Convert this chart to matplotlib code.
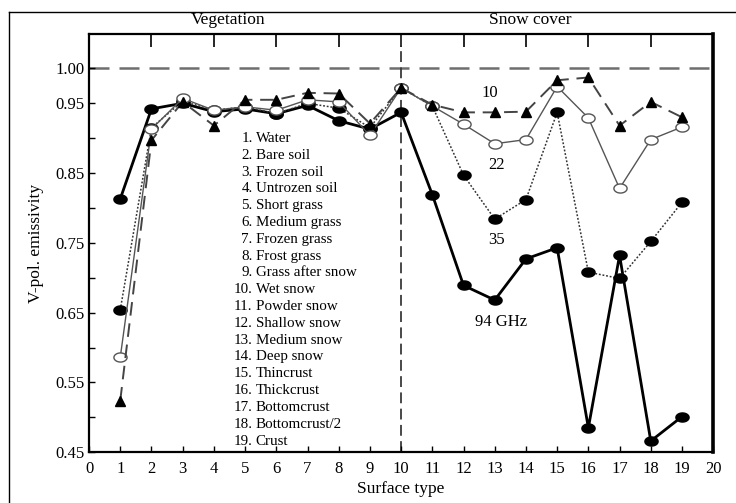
"""Emissivity versus surface type at four frequencies."""

import numpy as np
import matplotlib

matplotlib.use("Agg")
import matplotlib.pyplot as plt
from matplotlib.path import Path
from matplotlib.lines import Line2D

plt.rcParams["font.family"] = ["Liberation Serif", "DejaVu Serif"]

surface = list(range(1, 20))
surface_names = [
    "Water", "Bare soil", "Frozen soil", "Untrozen soil", "Short grass",
    "Medium grass", "Frozen grass", "Frost grass", "Grass after snow",
    "Wet snow", "Powder snow", "Shallow snow", "Medium snow", "Deep snow",
    "Thincrust", "Thickcrust", "Bottomcrust", "Bottomcrust/2", "Crust",
]
e10 = [0.524, 0.897, 0.952, 0.918, 0.955, 0.955, 0.965, 0.964, 0.921, 0.972,
       0.948, 0.937, 0.937, 0.938, 0.983, 0.987, 0.918, 0.952, 0.930]
e22 = [0.586, 0.913, 0.957, 0.940, 0.945, 0.940, 0.955, 0.952, 0.904, 0.972,
       0.946, 0.920, 0.892, 0.898, 0.974, 0.929, 0.828, 0.898, 0.916]
e35 = [0.654, 0.915, 0.953, 0.940, 0.945, 0.935, 0.950, 0.943, 0.915, 0.972,
       0.946, 0.847, 0.784, 0.812, 0.937, 0.708, 0.699, 0.752, 0.808]
e94 = [0.813, 0.942, 0.950, 0.938, 0.942, 0.935, 0.947, 0.925, 0.913, 0.937,
       0.819, 0.689, 0.668, 0.727, 0.743, 0.485, 0.732, 0.466, 0.501]

# flattened ellipse marker
t = np.linspace(0, 2 * np.pi, 40)
ellipse = Path(np.column_stack([1.45 * np.cos(t), np.sin(t)]), closed=True)

fig = plt.figure(figsize=(7.36, 5.03), dpi=100)
ax = fig.add_axes([0.121, 0.101, 0.848, 0.831])

# outer frame
fig.add_artist(Line2D([9 / 736, 9 / 736], [0, 1 - 12 / 503], transform=fig.transFigure,
                      color="black", lw=1.0))
fig.add_artist(Line2D([9 / 736, 1], [1 - 12 / 503, 1 - 12 / 503], transform=fig.transFigure,
                      color="black", lw=1.0))

ax.axhline(1.0, color="#6e6e6e", lw=1.8, dashes=(8, 4), zorder=1)
ax.axvline(10, color="#3a3a3a", lw=1.3, dashes=(6, 3), zorder=1)

ax.plot(surface, e94, color="black", lw=2.0, marker=ellipse, ms=9.5,
        mfc="black", mec="black", zorder=3)
ax.plot(surface, e35, color="#333333", lw=1.1, ls=(0, (1.2, 1.2)), marker=ellipse, ms=9.5,
        mfc="black", mec="black", zorder=4)
ax.plot(surface, e22, color="#555555", lw=1.0, marker=ellipse, ms=9.5,
        mfc="white", mec="#555555", mew=1.0, zorder=5)
ax.plot(surface, e10, color="#444444", lw=1.4, dashes=(7, 4), marker="^", ms=7.5,
        mfc="black", mec="black", zorder=6)

ax.text(12.85, 0.965, "10", fontsize=12, ha="center", va="center")
ax.text(13.05, 0.861, "22", fontsize=12, ha="center", va="center")
ax.text(13.05, 0.754, "35", fontsize=12, ha="center", va="center")
ax.text(13.2, 0.636, "94 GHz", fontsize=12, ha="center", va="center")

# numbered list of surface types
ys = np.linspace(0.8997, 0.466, len(surface))
for n, name, yy in zip(surface, surface_names, ys):
    ax.text(5.24, yy, f"{n}.", fontsize=10.8, ha="right", va="center")
    ax.text(5.34, yy, name, fontsize=10.8, ha="left", va="center")

ax.set_xlim(0, 20)
ax.set_ylim(0.45, 1.049)
ax.set_xticks(range(0, 21))
ax.set_yticks([0.45, 0.55, 0.65, 0.75, 0.85, 0.95, 1.00])
ax.set_yticklabels(["0.45", "0.55", "0.65", "0.75", "0.85", "0.95", "1.00"])
ax.set_yticks(np.arange(0.50, 0.95, 0.1), minor=True)
ax.tick_params(axis="both", which="major", direction="in", length=4.5, width=1.0,
               labelsize=12, top=False, right=False)
ax.tick_params(axis="x", which="major", pad=6)
ax.tick_params(axis="y", which="minor", direction="in", length=4.5, width=1.0)

top = ax.secondary_xaxis("top")
top.set_xticks(range(2, 19, 2))
top.tick_params(direction="in", length=9, width=1.2, labeltop=False)
top.spines["top"].set_visible(False)

for side in ["left", "bottom", "top"]:
    ax.spines[side].set_linewidth(1.6)
ax.spines["right"].set_linewidth(2.6)

ax.set_xlabel("Surface type", fontsize=12.5, labelpad=3)
ax.set_ylabel("V-pol. emissivity", fontsize=12.5, labelpad=8)

fig.text(228 / 736, 1 - 20 / 503, "Vegetation", fontsize=12.5, ha="center", va="center")
fig.text(530 / 736, 1 - 20 / 503, "Snow cover", fontsize=12.5, ha="center", va="center")

fig.savefig("out.png", dpi=100)
